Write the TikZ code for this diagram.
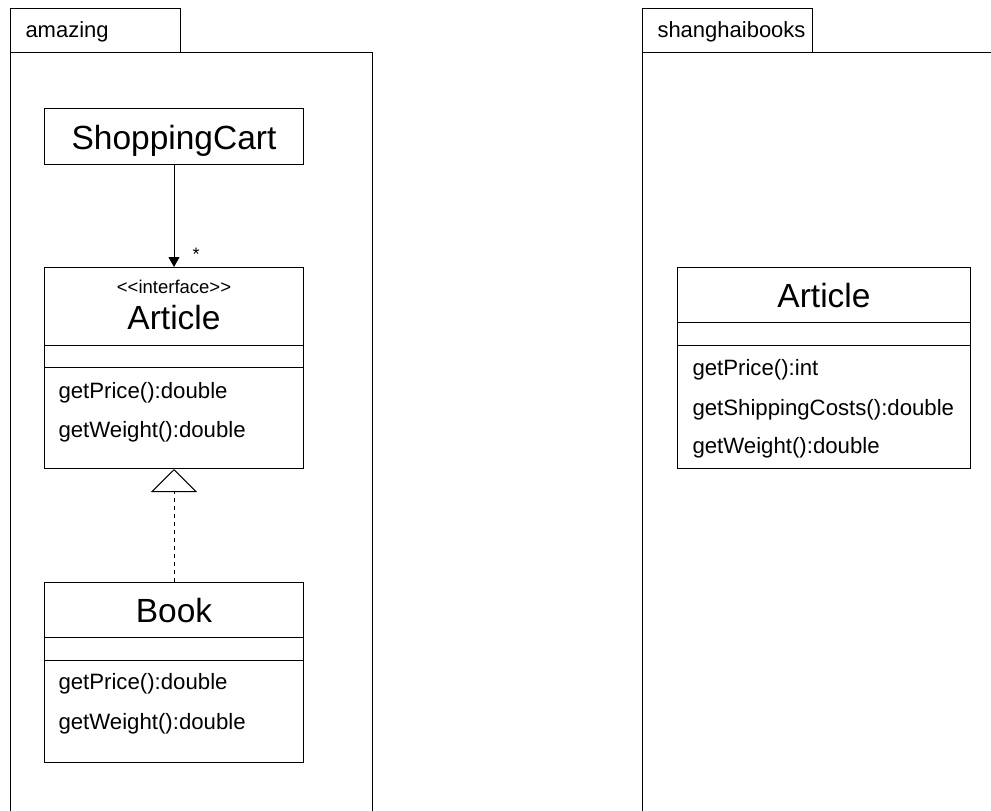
\documentclass[tikz,border=0pt]{standalone}
\usepackage{fontspec}
\setmainfont{Liberation Sans}
\usetikzlibrary{arrows.meta, positioning}

\begin{document}
\begin{tikzpicture}[
    x=1pt, y=-1pt,
    line width=1pt,
    pkgtab/.style={draw, anchor=north west, minimum width=170pt, minimum height=44pt, inner sep=0pt},
    classbox/.style={draw, anchor=north west, minimum width=259pt, inner sep=0pt},
    classname/.style={font=\fontsize{33.5}{38}\selectfont, anchor=base},
    stereotype/.style={font=\fontsize{18.5}{20}\selectfont, anchor=base},
    member/.style={font=\fontsize{22.2}{26}\selectfont, anchor=base west, inner sep=0pt},
    pkglabel/.style={font=\fontsize{22}{26}\selectfont, anchor=base west, inner sep=0pt},
    assoc/.style={-{Triangle[length=10pt, width=11pt]}},
    realize/.style={-{Triangle[open, length=23pt, width=46pt]}, dash pattern=on 4pt off 4pt}
]
    \clip (0,0) rectangle (991,811);

    % Package amazing
    \node[pkgtab] (amazingtab) at (10,8) {};
    \node[pkglabel] (amazinglbl) at (25,37) {amazing};
    \draw (10,830) |- (372,52) -- (372,830);

    % Package shanghaibooks
    \node[pkgtab] (shanghaitab) at (642,8) {};
    \node[pkglabel] (shanghailbl) at (657,37) {shanghaibooks};
    \draw (642,830) |- (1000,52);

    % ShoppingCart
    \node[classbox, minimum height=56pt] (cart) at (44,108) {};
    \node[classname] (cartname) at (cart.center |- 0,149) {ShoppingCart};

    % Article (interface)
    \node[classbox, minimum height=201pt] (iface) at (44,267) {};
    \node[stereotype] (ifacestereo) at (iface.center |- 0,293) {{<}{<}interface{>}{>}};
    \node[classname] (ifacename) at (iface.center |- 0,329) {Article};
    \draw (iface.west |- 0,345) -- (iface.east |- 0,345);
    \draw (iface.west |- 0,367) -- (iface.east |- 0,367);
    \node[member] (ifaceprice) at (58,398) {getPrice():double};
    \node[member] (ifaceweight) at (58,437) {getWeight():double};

    % Book
    \node[classbox, minimum height=180pt] (book) at (44,582) {};
    \node[classname] (bookname) at (book.center |- 0,622) {Book};
    \draw (book.west |- 0,637) -- (book.east |- 0,637);
    \draw (book.west |- 0,660) -- (book.east |- 0,660);
    \node[member] (bookprice) at (58,689) {getPrice():double};
    \node[member] (bookweight) at (58,729) {getWeight():double};

    % Article (shanghaibooks)
    \node[classbox, minimum width=293pt, minimum height=201pt] (article) at (677,267) {};
    \node[classname] (articlename) at (article.center |- 0,307) {Article};
    \draw (article.west |- 0,322) -- (article.east |- 0,322);
    \draw (article.west |- 0,345) -- (article.east |- 0,345);
    \node[member] (articleprice) at (692,375) {getPrice():int};
    \node[member] (articleship) at (692,415) {getShippingCosts():double};
    \node[member] (articleweight) at (692,453) {getWeight():double};

    % Relations
    \draw[assoc] (cart) -- (iface);
    \node[font=\fontsize{18}{20}\selectfont, anchor=base west, inner sep=0pt] (mult) at (192,260) {*};
    \draw[realize] (book) -- (iface);
\end{tikzpicture}
\end{document}
